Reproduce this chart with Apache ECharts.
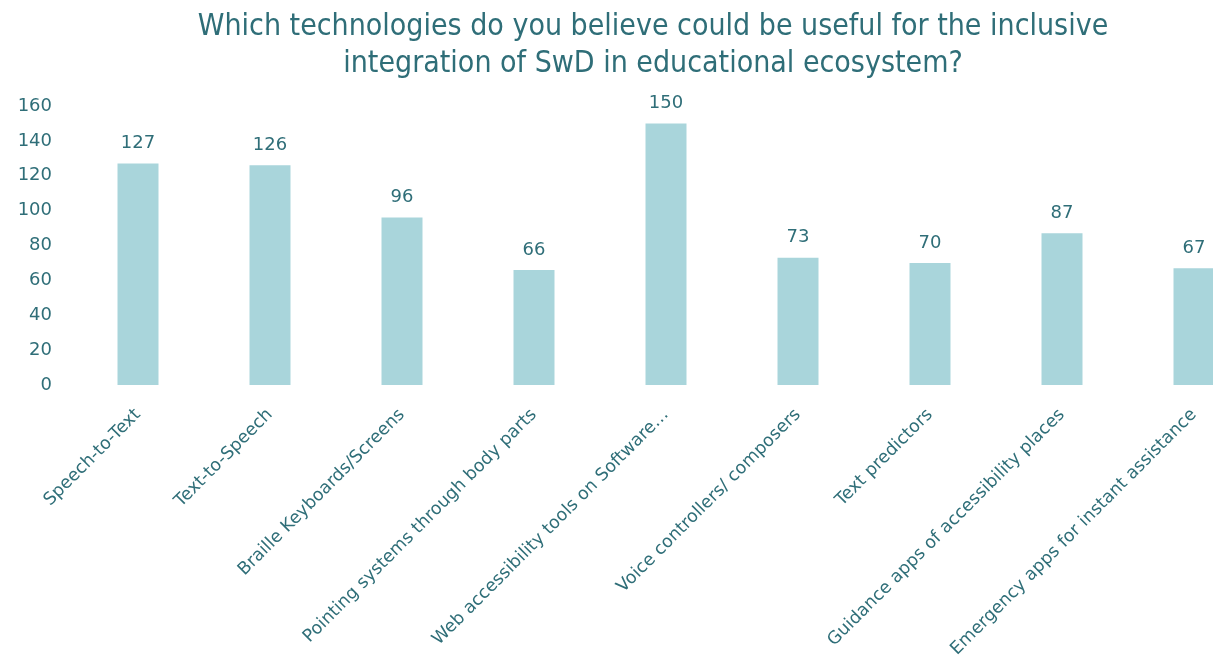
<!DOCTYPE html>
<html>
<head>
<meta charset="utf-8">
<script src="https://cdn.jsdelivr.net/npm/echarts@6/dist/echarts.min.js"></script>
<style>
  html, body { margin: 0; padding: 0; background: #ffffff; overflow: hidden; }
  /* the plot runs past the right edge of the window, so the last bar is cut */
  #chart { width: 1260px; height: 658px; }
</style>
</head>
<body>
<div id="chart"></div>
<script>
// Survey answers: technologies considered useful for inclusive integration
const categories = [
  'Speech-to-Text',
  'Text-to-Speech',
  'Braille Keyboards/Screens',
  'Pointing systems through body parts',
  'Web accessibility tools on Software…',
  'Voice controllers/ composers',
  'Text predictors',
  'Guidance apps of accessibility places',
  'Emergency apps for instant assistance'
];
const responses = [127, 126, 96, 66, 150, 73, 70, 87, 67];
const yTicks = { min: 0, max: 160, step: 20 };

const textColor = '#2f6e78';
const barColor = '#a9d5db';
const labelFont = '"DejaVu Sans", "Liberation Sans", sans-serif';

const chart = echarts.init(document.getElementById('chart'), null, { renderer: 'canvas' });
chart.setOption({
  backgroundColor: '#ffffff',
  animation: false,
  title: {
    text: 'Which technologies do you believe could be useful for the inclusive\nintegration of SwD in educational ecosystem?',
    left: 648,
    textAlign: 'center',
    top: 4,
    textStyle: {
      color: textColor,
      fontFamily: '"DejaVu Sans Condensed", "Liberation Sans Narrow", "Liberation Sans", sans-serif',
      fontWeight: 'normal',
      fontSize: 30,
      lineHeight: 37
    }
  },
  grid: {
    left: 72,
    top: 106,
    right: 0,
    height: 279,
    outerBoundsMode: 'none',
    containLabel: false
  },
  xAxis: {
    type: 'category',
    data: categories,
    axisLine: { show: false },
    axisTick: { show: false },
    axisLabel: {
      rotate: 45,
      interval: 0,
      margin: 27,
      color: textColor,
      fontFamily: labelFont,
      fontSize: 17.5
    }
  },
  yAxis: {
    type: 'value',
    min: yTicks.min,
    max: yTicks.max,
    interval: yTicks.step,
    splitLine: { show: false },
    axisLine: { show: false },
    axisTick: { show: false },
    axisLabel: {
      margin: 20,
      color: textColor,
      fontFamily: labelFont,
      fontSize: 18
    }
  },
  series: [{
    type: 'bar',
    data: responses,
    barWidth: 41,
    itemStyle: { color: barColor },
    label: {
      show: true,
      position: 'top',
      distance: 11,
      color: textColor,
      fontFamily: labelFont,
      fontSize: 18
    }
  }]
});
</script>
</body>
</html>
